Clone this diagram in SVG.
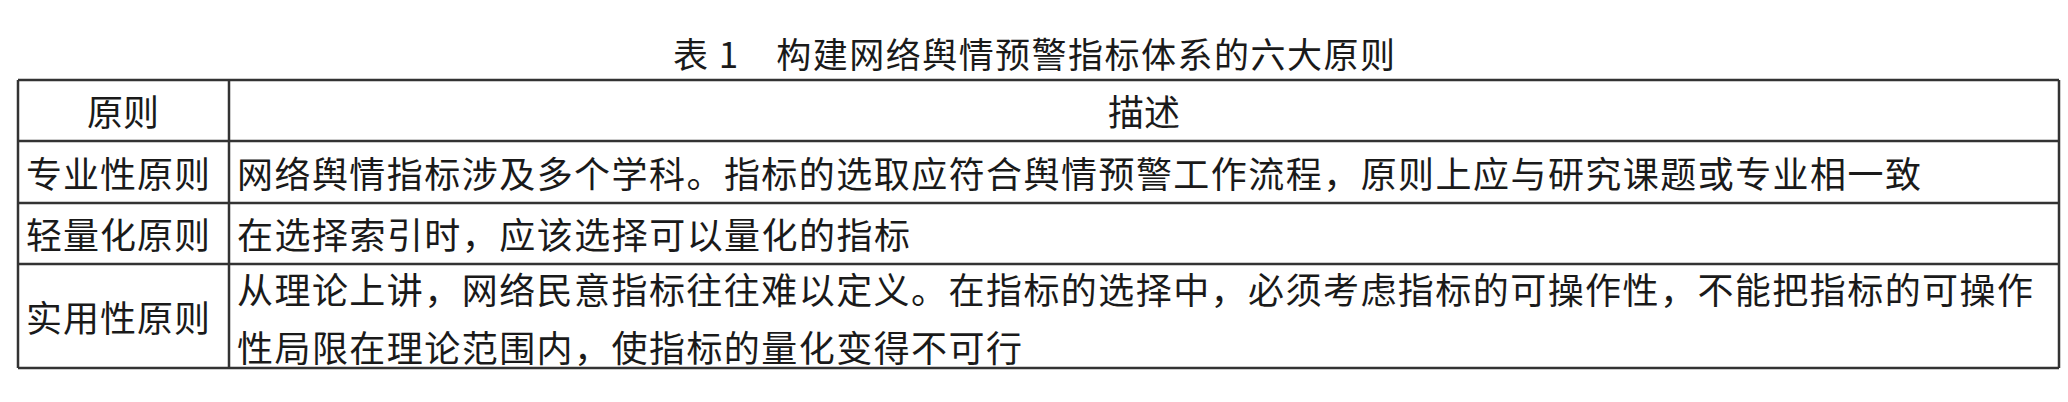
<svg xmlns="http://www.w3.org/2000/svg" width="2068" height="402" viewBox="0 0 2068 402">
<style>
text{font-family:"Noto Sans CJK SC","Noto Sans CJK JP",sans-serif;fill:#1a1a1a;dominant-baseline:central}
.c{font-size:36px}
.t{font-size:35px}
.g line{stroke:#333;stroke-width:2.5}
</style>
<rect width="2068" height="402" fill="#fff"/>
<text id="title" class="t" x="1034" y="52" text-anchor="middle" textLength="722">表 1　构建网络舆情预警指标体系的六大原则</text>
<g class="g" id="grid">
<line x1="18" y1="80" x2="2059" y2="80"/>
<line x1="18" y1="141" x2="2059" y2="141"/>
<line x1="18" y1="203" x2="2059" y2="203"/>
<line x1="18" y1="264" x2="2059" y2="264"/>
<line x1="18" y1="368" x2="2059" y2="368"/>
<line x1="18" y1="80" x2="18" y2="368"/>
<line x1="229" y1="80" x2="229" y2="368"/>
<line x1="2059" y1="80" x2="2059" y2="368"/>
</g>
<g id="header">
<text class="c" x="123" y="110" text-anchor="middle">原则</text>
<text class="c" x="1144" y="110" text-anchor="middle">描述</text>
</g>
<g id="row1">
<text class="c" x="26" y="172" textLength="184">专业性原则</text>
<text class="c" x="237" y="172" textLength="1684">网络舆情指标涉及多个学科。指标的选取应符合舆情预警工作流程，原则上应与研究课题或专业相一致</text>
</g>
<g id="row2">
<text class="c" x="26" y="233" textLength="184">轻量化原则</text>
<text class="c" x="237" y="233" textLength="673">在选择索引时，应该选择可以量化的指标</text>
</g>
<g id="row3">
<text class="c" x="26" y="316" textLength="184">实用性原则</text>
<text class="c" x="237" y="288" textLength="1796">从理论上讲，网络民意指标往往难以定义。在指标的选择中，必须考虑指标的可操作性，不能把指标的可操作</text>
<text class="c" x="237" y="346" textLength="785">性局限在理论范围内，使指标的量化变得不可行</text>
</g>
</svg>
